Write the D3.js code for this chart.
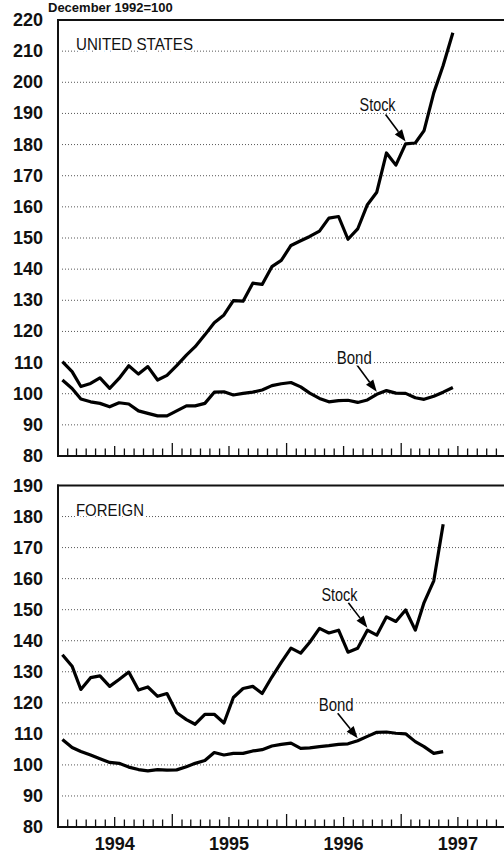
<!DOCTYPE html>
<html>
<head>
<meta charset="utf-8">
<script src="https://cdn.jsdelivr.net/npm/d3@7"></script>
<style>
  html, body { margin: 0; padding: 0; background: #fff; }
  svg { display: block; }
</style>
</head>
<body>
<svg id="chart" width="504" height="853"></svg>
<script>
// ---------------- DATA (monthly, Jan 1994 onward; index = Dec 1992 = 100) ----------------
const usStock = [110.3, 107.1, 102.3, 103.3, 105.1, 101.7, 104.9, 109.0, 106.3, 108.7, 104.4, 105.9,
                 109.0, 112.4, 115.1, 118.9, 122.8, 125.3, 129.9, 129.7, 135.5, 135.1, 140.8, 142.8,
                 147.6, 149.1, 150.5, 152.2, 156.4, 156.9, 149.6, 152.9, 160.7, 164.7, 177.3, 173.4,
                 180.2, 180.5, 184.5, 196.6, 205.4, 215.9];
const usBond = [104.4, 101.7, 98.3, 97.4, 96.9, 95.8, 97.1, 96.7, 94.5, 93.7, 92.9, 92.9,
                94.5, 96.1, 96.1, 96.9, 100.5, 100.6, 99.6, 100.1, 100.5, 101.2, 102.6, 103.2,
                103.6, 102.2, 100.2, 98.5, 97.4, 97.8, 97.9, 97.2, 98.0, 99.8, 101.0, 100.2,
                100.1, 98.7, 98.2, 99.2, 100.5, 102.0];
const foreignStock = [135.5, 131.8, 124.3, 128.1, 128.7, 125.3, 127.5, 129.9, 124.1, 125.1, 122.1, 123.0,
                      116.8, 114.6, 113.1, 116.3, 116.3, 113.5, 121.7, 124.6, 125.3, 123.0, 128.3, 133.0,
                      137.6, 136.0, 139.5, 144.0, 142.5, 143.4, 136.3, 137.6, 143.4, 141.8, 147.7, 146.2,
                      149.9, 143.4, 152.3, 159.3, 177.5];
const foreignBond = [108.2, 105.6, 104.3, 103.2, 102.0, 100.8, 100.5, 99.3, 98.5, 98.1, 98.5, 98.3,
                     98.4, 99.4, 100.5, 101.4, 104.0, 103.2, 103.7, 103.7, 104.5, 104.9, 106.1, 106.6,
                     107.0, 105.3, 105.5, 105.9, 106.2, 106.6, 106.8, 107.8, 109.2, 110.5, 110.6, 110.2,
                     110.0, 107.5, 105.9, 103.7, 104.3];

const usTicks = [80, 90, 100, 110, 120, 130, 140, 150, 160, 170, 180, 190, 200, 210, 220];
const foreignTicks = [80, 90, 100, 110, 120, 130, 140, 150, 160, 170, 180, 190];
const yearLabels = ["1994", "1995", "1996", "1997"];
const subtitle = "December 1992=100";
// annotation: series label, data index the arrow points at
const usAnnotations = [{ text: "Stock", series: "stock", index: 36 }, { text: "Bond", series: "bond", index: 33 }];
const foreignAnnotations = [{ text: "Stock", series: "stock", index: 32 }, { text: "Bond", series: "bond", index: 31 }];

// ---------------- LAYOUT ----------------
const W = 504, H = 853;
const left = 58;
const FONT = "'Liberation Sans', Arial, Helvetica, sans-serif";
const svg = d3.select("#chart");
svg.append("rect").attr("width", W).attr("height", H).attr("fill", "#fff");

const start = new Date(1994, 0, 1), end = new Date(1998, 0, 1);
const x = d3.scaleTime().domain([start, end]).range([left, 515.5]);
const monthDate = i => new Date(1994, i, 15);

svg.append("text")
  .attr("x", 48).attr("y", 12)
  .attr("font-family", FONT).attr("font-size", 13).attr("font-weight", "bold")
  .attr("fill", "#111")
  .text(subtitle);

const panels = [
  { title: "UNITED STATES", titleLen: 117, top: 20, bottom: 456, ticks: usTicks,
    stock: usStock, bond: usBond, ann: usAnnotations,
    annOffsets: { stock: [-46, -30, -20, -27], bond: [-40, -28, -20, -27] } },
  { title: "FOREIGN", titleLen: 68, top: 485.5, bottom: 827, ticks: foreignTicks,
    stock: foreignStock, bond: foreignBond, ann: foreignAnnotations,
    annOffsets: { stock: [-46, -27, -19, -25], bond: [-39, -27, -20, -25] } }
];

panels.forEach(p => {
  const g = svg.append("g");
  const y = d3.scaleLinear().domain(d3.extent(p.ticks)).range([p.bottom, p.top]);

  // dotted gridlines
  g.selectAll("line.grid")
    .data(p.ticks.slice(1, -1))
    .enter().append("line")
    .attr("x1", 62).attr("x2", W)
    .attr("y1", d => y(d)).attr("y2", d => y(d))
    .attr("stroke", "#444").attr("stroke-width", 0.9)
    .attr("stroke-dasharray", "1,2");

  // y tick labels
  g.selectAll("text.ytick")
    .data(p.ticks)
    .enter().append("text")
    .attr("x", 43).attr("y", d => y(d) + 6)
    .attr("text-anchor", "end")
    .attr("font-family", FONT).attr("font-size", 18).attr("font-weight", "bold")
    .attr("fill", "#111")
    .text(d => d);

  // month ticks on bottom axis
  const months = d3.timeMonth.range(start, end);
  g.selectAll("line.mtick")
    .data(months)
    .enter().append("line")
    .attr("x1", d => x(d)).attr("x2", d => x(d))
    .attr("y1", p.bottom)
    .attr("y2", d => p.bottom - (d.getMonth() === 0 ? 13 : d.getMonth() === 6 ? 10 : 7.5))
    .attr("stroke", "#111").attr("stroke-width", 1.3);

  // frame
  g.append("line").attr("x1", left - 1).attr("x2", W).attr("y1", p.top).attr("y2", p.top)
    .attr("stroke", "#111").attr("stroke-width", 2);
  g.append("line").attr("x1", left - 1).attr("x2", W).attr("y1", p.bottom).attr("y2", p.bottom)
    .attr("stroke", "#111").attr("stroke-width", 2.2);
  g.append("line").attr("x1", left).attr("x2", left).attr("y1", p.top - 1).attr("y2", p.bottom + 1)
    .attr("stroke", "#111").attr("stroke-width", 2);

  // panel title
  g.append("text")
    .attr("x", 76).attr("y", p.top + 30)
    .attr("font-family", FONT).attr("font-size", 17)
    .attr("textLength", p.titleLen).attr("lengthAdjust", "spacingAndGlyphs")
    .attr("stroke", "#fff").attr("stroke-width", 4).attr("paint-order", "stroke")
    .attr("fill", "#111")
    .text(p.title);

  // data lines
  const line = d3.line()
    .x((d, i) => x(monthDate(i)))
    .y(d => y(d));
  [p.bond, p.stock].forEach(series => {
    g.append("path")
      .datum(series)
      .attr("d", line)
      .attr("fill", "none")
      .attr("stroke", "#000")
      .attr("stroke-width", 3.2)
      .attr("stroke-linejoin", "round");
  });

  // annotations
  p.ann.forEach(a => {
    const series = a.series === "stock" ? p.stock : p.bond;
    const o = p.annOffsets[a.series];
    const tx = x(monthDate(a.index)), ty = y(series[a.index]) - 2.5;
    const sx = tx + o[2], sy = ty + o[3];
    const ang = Math.atan2(ty - sy, tx - sx);
    const hl = 12, hw = 4.5;
    const bx = tx - hl * Math.cos(ang), by = ty - hl * Math.sin(ang);
    g.append("line").attr("x1", sx).attr("y1", sy).attr("x2", bx).attr("y2", by)
      .attr("stroke", "#000").attr("stroke-width", 1.6);
    g.append("path")
      .attr("d", `M${tx},${ty} L${bx + hw * Math.sin(ang)},${by - hw * Math.cos(ang)} L${bx - hw * Math.sin(ang)},${by + hw * Math.cos(ang)} Z`)
      .attr("fill", "#000");
    g.append("text")
      .attr("x", tx + o[0]).attr("y", ty + o[1])
      .attr("font-family", FONT).attr("font-size", 18)
      .attr("textLength", a.text === "Stock" ? 36 : 35).attr("lengthAdjust", "spacingAndGlyphs")
      .attr("stroke", "#fff").attr("stroke-width", 3).attr("paint-order", "stroke")
      .attr("fill", "#111")
      .text(a.text);
  });
});

// year labels
svg.selectAll("text.year")
  .data(yearLabels)
  .enter().append("text")
  .attr("x", d => x(new Date(+d, 6, 1)))
  .attr("y", 850)
  .attr("text-anchor", "middle")
  .attr("font-family", FONT).attr("font-size", 18).attr("font-weight", "bold")
  .attr("fill", "#111")
  .text(d => d);
</script>
</body>
</html>
